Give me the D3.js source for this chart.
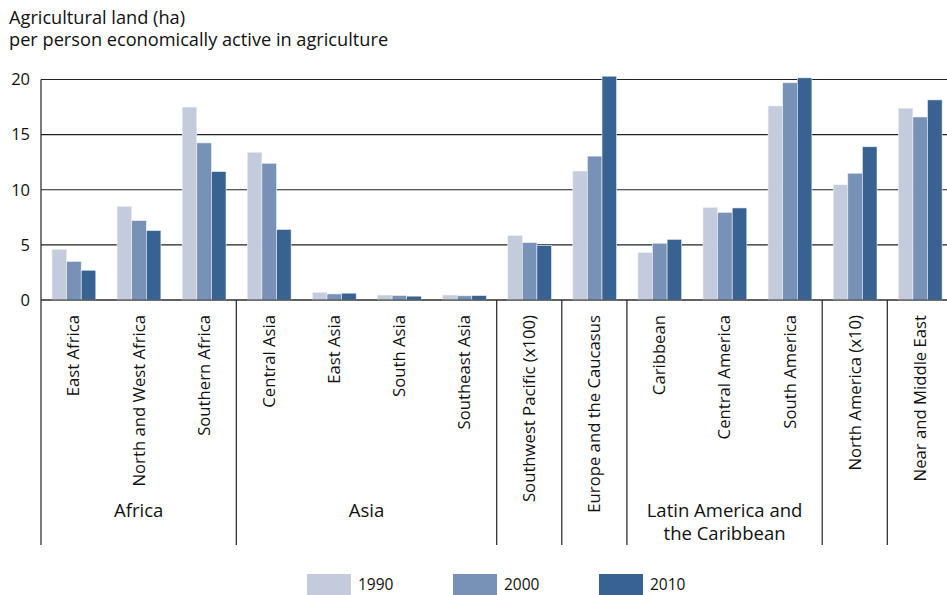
<!DOCTYPE html>
<html lang="en">
<head>
    <meta charset="UTF-8">
    <title>Agricultural land per person economically active in agriculture</title>
    <script src="https://d3js.org/d3.v7.min.js"></script>
    <style>
        body { margin: 0; background: #fff; }
        svg { display: block; font-family: "Open Sans", "Noto Sans", sans-serif; }
    </style>
</head>
<body>
    <div id="chart-container"></div>

    <script>
        // Regions (bottom axis) and the groups they belong to
        const regions = ["East Africa", "North and West Africa", "Southern Africa",
            "Central Asia", "East Asia", "South Asia", "Southeast Asia",
            "Southwest Pacific (x100)", "Europe and the Caucasus",
            "Caribbean", "Central America", "South America",
            "North America (x10)", "Near and Middle East"];
        const groups = [
            { name: ["Africa"], from: 0, to: 2 },
            { name: ["Asia"], from: 3, to: 6 },
            { name: [], from: 7, to: 7 },
            { name: [], from: 8, to: 8 },
            { name: ["Latin America and", "the Caribbean"], from: 9, to: 11 },
            { name: [], from: 12, to: 12 },
            { name: [], from: 13, to: 13 }
        ];
        const years = ["1990", "2000", "2010"];
        const v1990 = [4.6, 8.5, 17.5, 13.4, 0.7, 0.45, 0.45, 5.85, 11.7, 4.3, 8.4, 17.6, 10.45, 17.4];
        const v2000 = [3.5, 7.2, 14.25, 12.4, 0.55, 0.4, 0.38, 5.2, 13.05, 5.15, 7.95, 19.7, 11.5, 16.6];
        const v2010 = [2.7, 6.3, 11.65, 6.4, 0.62, 0.35, 0.4, 4.95, 20.3, 5.5, 8.35, 20.15, 13.9, 18.15];
        const yTicks = [0, 5, 10, 15, 20];
        const colors = ["#c4cbdd", "#7792b6", "#386292"];

        const series = [v1990, v2000, v2010];
        const data = regions.map((r, i) => ({ region: r, values: series.map(s => s[i]) }));

        const W = 947, H = 595;
        const plotLeft = 41, plotTop = 79.5, zeroY = 300, plotBottom = 545;
        const bandW = 65.1;

        const svg = d3.select("#chart-container").append("svg")
            .attr("width", W).attr("height", H);

        // Title
        const title = svg.append("text").attr("x", 9).attr("y", 24)
            .style("font-size", "18.2px").attr("fill", "#111");
        title.append("tspan").attr("x", 9).text("Agricultural land (ha)");
        title.append("tspan").attr("x", 9).attr("dy", 22).text("per person economically active in agriculture");

        const x = d3.scaleBand()
            .domain(regions)
            .range([plotLeft, plotLeft + bandW * regions.length])
            .paddingInner(0).paddingOuter(0);

        const x1 = d3.scaleBand()
            .domain(years)
            .range([11, 11 + 43.8]);

        const y = d3.scaleLinear().domain([0, 20]).range([zeroY, plotTop]);

        // Gridlines
        svg.append("g")
            .selectAll("line")
            .data(yTicks)
            .join("line")
            .attr("x1", plotLeft).attr("x2", W)
            .attr("y1", d => y(d)).attr("y2", d => y(d))
            .attr("stroke", "#222").attr("stroke-width", 1.1);

        // Y tick labels
        svg.append("g")
            .selectAll("text")
            .data(yTicks)
            .join("text")
            .attr("x", 30).attr("y", d => y(d))
            .attr("dy", "0.35em")
            .attr("text-anchor", "end")
            .style("font-size", "16.5px")
            .attr("fill", "#111")
            .text(d => d);

        // Bars
        const groupsG = svg.append("g")
            .selectAll("g")
            .data(data)
            .join("g")
            .attr("transform", d => `translate(${x(d.region)},0)`);

        groupsG.selectAll("rect")
            .data(d => d.values.map((v, k) => ({ year: years[k], value: v, k })))
            .join("rect")
            .attr("x", d => x1(d.year))
            .attr("width", x1.bandwidth())
            .attr("y", d => y(d.value))
            .attr("height", d => y(0) - y(d.value))
            .attr("fill", d => colors[d.k])
            .attr("stroke", "#eef1f6").attr("stroke-width", 0.6);

        // Zero line over bars
        svg.append("line")
            .attr("x1", plotLeft).attr("x2", W)
            .attr("y1", y(0)).attr("y2", y(0))
            .attr("stroke", "#333").attr("stroke-width", 1.2);

        // Left axis line
        svg.append("line")
            .attr("x1", plotLeft).attr("x2", plotLeft)
            .attr("y1", plotTop).attr("y2", plotBottom)
            .attr("stroke", "#222").attr("stroke-width", 1.2);

        // Group separators
        svg.append("g")
            .selectAll("line")
            .data(groups.slice(1))
            .join("line")
            .attr("x1", d => x(regions[d.from])).attr("x2", d => x(regions[d.from]))
            .attr("y1", zeroY).attr("y2", plotBottom)
            .attr("stroke", "#222").attr("stroke-width", 1.2);

        // Region labels (rotated)
        svg.append("g")
            .selectAll("text")
            .data(regions)
            .join("text")
            .attr("transform", d => `translate(${x(d) + bandW / 2},315) rotate(-90)`)
            .attr("dy", "0.35em")
            .attr("text-anchor", "end")
            .style("font-size", "16.7px")
            .attr("fill", "#111")
            .text(d => d);

        // Group labels
        groups.filter(g => g.name.length).forEach(g => {
            const cx = (x(regions[g.from]) + x(regions[g.to]) + bandW) / 2;
            const t = svg.append("text")
                .attr("text-anchor", "middle")
                .style("font-size", "18.5px")
                .attr("fill", "#111");
            g.name.forEach((line, i) => {
                t.append("tspan").attr("x", cx).attr("y", 517 + i * 22.5).text(line);
            });
        });

        // Legend
        const legend = svg.append("g")
            .selectAll("g")
            .data(years)
            .join("g")
            .attr("transform", (d, i) => `translate(${307 + i * 146},574)`);
        legend.append("rect")
            .attr("width", 44).attr("height", 21)
            .attr("fill", (d, i) => colors[i]);
        legend.append("text")
            .attr("x", 51).attr("y", 10.5).attr("dy", "0.35em")
            .style("font-size", "15.5px")
            .attr("fill", "#111")
            .text(d => d);
    </script>
</body>
</html>
